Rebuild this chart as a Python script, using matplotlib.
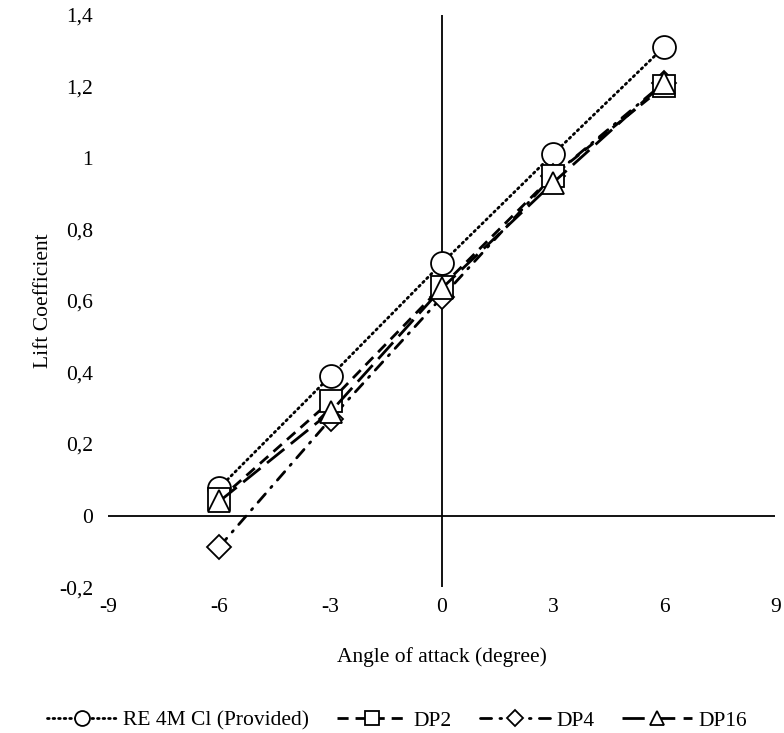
import matplotlib.pyplot as plt
import matplotlib as mpl

mpl.rcParams['font.family'] = ['Liberation Serif', 'DejaVu Serif']

# Data
angle = [-6, -3, 0, 3, 6]
re_4m = [0.078, 0.39, 0.705, 1.01, 1.31]
dp2 = [0.045, 0.32, 0.64, 0.95, 1.20]
dp4 = [-0.087, 0.27, 0.61, 0.95, 1.21]
dp16 = [0.04, 0.29, 0.635, 0.93, 1.21]

x_ticks = [-9, -6, -3, 0, 3, 6, 9]
x_labels = ['-9', '-6', '-3', '0', '3', '6', '9']
y_ticks = [-0.2, 0, 0.2, 0.4, 0.6, 0.8, 1.0, 1.2, 1.4]
y_labels = ['-0,2', '0', '0,2', '0,4', '0,6', '0,8', '1', '1,2', '1,4']

fig = plt.figure(figsize=(7.84, 7.33), dpi=100)
ax = fig.add_axes([0.138, 0.199, 0.851, 0.781])

fs = 15.5
ms = 16.5
mew = 1.3
lw = 2.0

l_re, = ax.plot(angle, re_4m, color='black', linestyle=(0, (0.6, 1.4)), dash_capstyle='round',
                linewidth=lw, marker='o', markersize=ms, markerfacecolor='white',
                markeredgecolor='black', markeredgewidth=mew, zorder=2, label='RE 4M Cl (Provided)')
l_dp4, = ax.plot(angle, dp4, color='black', linestyle=(0, (4, 3, 0.6, 3)), dash_capstyle='round',
                 linewidth=lw, marker='D', markersize=ms * 0.75, markerfacecolor='white',
                 markeredgecolor='black', markeredgewidth=mew, zorder=3, label='DP4')
l_dp2, = ax.plot(angle, dp2, color='black', linestyle=(0, (4, 2.5)),
                 linewidth=lw, marker='s', markersize=ms, markerfacecolor='white',
                 markeredgecolor='black', markeredgewidth=mew, zorder=4, label='DP2')
l_dp16, = ax.plot(angle, dp16, color='black', linestyle=(0, (8, 3)),
                  linewidth=lw, marker='^', markersize=ms, markerfacecolor='white',
                  markeredgecolor='black', markeredgewidth=mew, zorder=5, label='DP16')

ax.set_xlim(-9, 9)
ax.set_ylim(-0.2, 1.4)
ax.set_xticks(x_ticks)
ax.set_xticklabels(x_labels)
ax.set_yticks(y_ticks)
ax.set_yticklabels(y_labels)
ax.tick_params(axis='y', length=0, labelsize=fs, pad=11)
ax.tick_params(axis='x', length=0, labelsize=fs, pad=8)

for s in ax.spines.values():
    s.set_visible(False)
ax.axhline(0, color='black', linewidth=1.3, zorder=1)
ax.axvline(0, color='black', linewidth=1.3, zorder=1)

ax.set_xlabel('Angle of attack (degree)', fontsize=fs)
ax.set_ylabel('Lift Coefficient', fontsize=fs)
ax.xaxis.set_label_coords(0.5, -0.105)
ax.yaxis.set_label_coords(-0.083, 0.5)

ax.legend(handles=[l_re, l_dp2, l_dp4, l_dp16], loc='center', bbox_to_anchor=(0.433, -0.233),
          ncol=4, frameon=False, fontsize=fs, markerscale=0.65, handlelength=3.25,
          handletextpad=0.3, columnspacing=1.3)

fig.savefig('out.png', dpi=100)
